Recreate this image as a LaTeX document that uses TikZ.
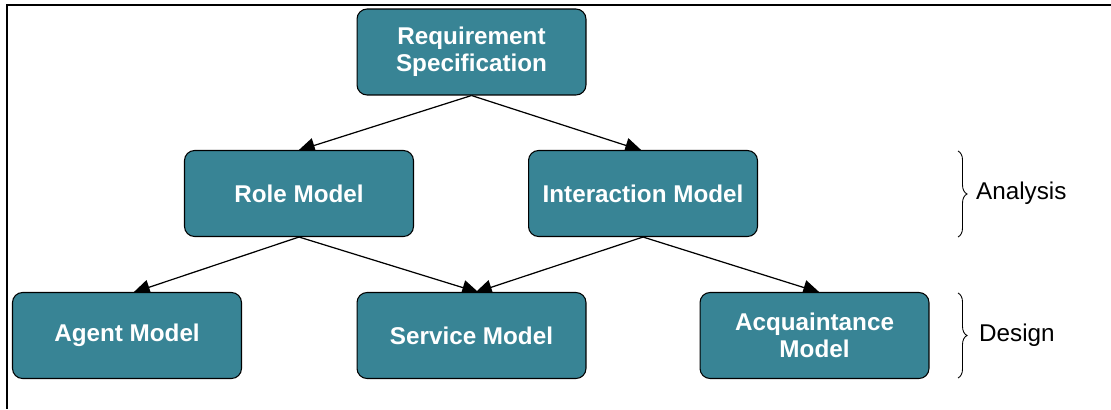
\documentclass[tikz,border=0pt]{standalone}
\usepackage{fontspec}
\setmainfont{Liberation Sans}
\usetikzlibrary{arrows.meta,decorations.pathreplacing,backgrounds}
\definecolor{boxteal}{RGB}{56,132,149}

\begin{document}
\begin{tikzpicture}[x=0.02cm,y=-0.02cm,
  modelbox/.style={draw=black,line width=0.6pt,fill=boxteal,rounded corners=0.2cm,
    minimum width=4.58cm,minimum height=1.72cm,align=center,text=white,
    font=\fontsize{13.8}{15.6}\selectfont\bfseries},
  flow/.style={-{Triangle[length=0.33cm,width=0.3cm]},line width=0.7pt,shorten >=-1pt},
  phase/.style={decorate,decoration={brace,amplitude=0.18cm},line width=0.5pt},
  phaselabel/.style={right,font=\fontsize{13.8}{15.6}\selectfont}]

\useasboundingbox (0,0) rectangle (1111,409);
\draw[line width=1.1pt] (1111,5)--(7,5)--(7,409);

% models
\node[modelbox] (req) at (471.5,52) {Requirement\\Specification};
\node[modelbox] (role) at (299,193.5) {Role Model};
\node[modelbox] (inter) at (643,193.5) {Interaction Model};
\node[modelbox] (agent) at (127,335.5) {Agent Model};
\node[modelbox] (service) at (471.5,335.5) {Service Model};
\node[modelbox] (acq) at (814.5,335.5) {Acquaintance\\Model};

\begin{scope}[on background layer]
\draw[flow] (req.south) -- ([xshift=0.02cm]role.north);
\draw[flow] (req.south) -- ([xshift=-0.06cm]inter.north);
\draw[flow] (role.south) -- ([xshift=0.16cm]agent.north);
\draw[flow] (role.south) -- ([xshift=0.11cm]service.north);
\draw[flow] (inter.south) -- ([xshift=0.11cm]service.north);
\draw[flow] (inter.south) -- ([xshift=0.07cm]acq.north);
\end{scope}

% phases
\draw[phase] (958,151) -- (958,237);
\node[phaselabel] (analysis) at (970,193) {Analysis};
\draw[phase] (958,293) -- (958,378);
\node[phaselabel] (design) at (973,335) {Design};

\end{tikzpicture}
\end{document}
